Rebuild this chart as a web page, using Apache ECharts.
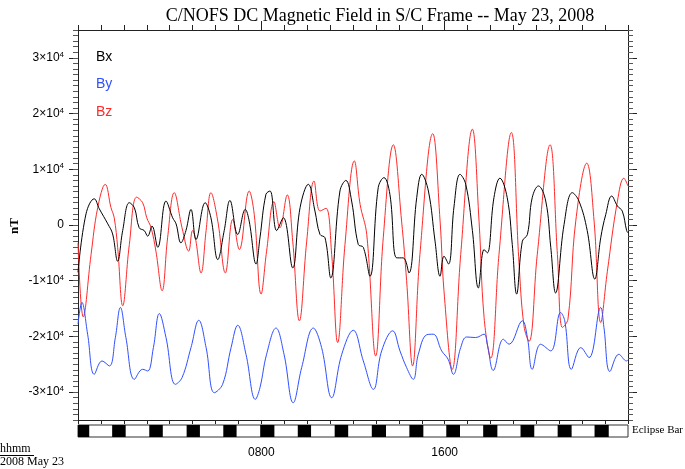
<!DOCTYPE html>
<html>
<head>
<meta charset="utf-8">
<script src="https://cdn.jsdelivr.net/npm/echarts@6/dist/echarts.min.js"></script>
<style>
  html, body { margin: 0; padding: 0; background: #fff; }
  #chart { width: 685px; height: 469px; }
</style>
</head>
<body>
<div id="chart"></div>
<script>
// time in hours (UT) of May 23 2008, field in nT
const bxHours = [0.00, 0.35, 0.71, 0.93, 1.30, 1.51, 1.73, 1.95, 2.24, 2.46, 2.67, 2.89, 3.04, 3.23, 3.48, 3.84, 4.13, 4.28, 4.49, 4.71, 4.93, 5.15, 5.55, 5.80, 6.10, 6.38, 6.63, 6.97, 7.30, 7.47, 7.77, 7.94, 8.20, 8.38, 8.67, 8.96, 9.37, 9.69, 10.05, 10.34, 10.56, 10.78, 11.03, 11.43, 11.69, 11.94, 12.23, 12.45, 12.74, 13.10, 13.35, 13.61, 13.91, 14.19, 14.44, 14.78, 15.00, 15.29, 15.58, 15.80, 15.97, 16.17, 16.41, 16.67, 16.92, 17.21, 17.47, 17.72, 17.86, 18.15, 18.41, 18.73, 18.95, 19.14, 19.39, 19.61, 19.82, 20.09, 20.41, 20.63, 20.84, 21.21, 21.57, 21.86, 22.22, 22.55, 22.81, 23.03, 23.29, 23.54, 23.75, 23.94, 24.00]
const bxValues = [-8500, 2000, 4700, 2900, 200, -1600, -6500, -1000, 4000, 3100, -500, -1000, -2000, -200, -4000, 4300, 1300, 200, -3200, -1000, 2800, -2600, 4000, 1300, -6200, -1000, 4400, -1700, 2800, 700, -7000, -2300, 5500, 6100, -1000, 1300, -7700, 3100, 7300, 2500, -1700, -2300, -9500, 6100, 8000, 4300, -3500, -4000, -9200, 6700, 8500, 5500, -5900, -5900, -8600, 4900, 9100, 6100, -2900, -9200, -5600, -7000, 3400, 9100, 7300, -1000, -11300, -4400, -5000, 4900, 8400, 4900, -3500, -12400, -2900, -1700, 4900, 7000, 4300, -4000, -12200, 100, 5800, 4300, -1000, -9700, -2300, 1900, 5200, 3400, 2500, -1000, -1400]

const byHours = [0.00, 0.17, 0.42, 0.71, 1.05, 1.37, 1.63, 1.85, 2.09, 2.46, 2.82, 3.04, 3.29, 3.55, 3.84, 4.25, 4.54, 4.93, 5.27, 5.59, 5.95, 6.31, 6.68, 6.97, 7.33, 7.74, 7.94, 8.23, 8.64, 8.99, 9.39, 9.76, 10.27, 10.63, 11.07, 11.51, 12.01, 12.45, 12.89, 13.25, 13.73, 14.05, 14.34, 14.63, 14.85, 15.22, 15.50, 15.87, 16.15, 16.38, 16.70, 16.96, 17.35, 17.72, 17.86, 18.12, 18.56, 18.81, 19.39, 19.61, 19.82, 20.19, 20.63, 21.06, 21.24, 21.53, 21.94, 22.30, 22.81, 22.95, 23.21, 23.60, 23.94, 24.00]
const byValues = [-17800, -13900, -19600, -26800, -24400, -25300, -20200, -14800, -20200, -27700, -25900, -26200, -22000, -15900, -20200, -28600, -27400, -22000, -17100, -22000, -30100, -28600, -22000, -18000, -23200, -31300, -29200, -23200, -18500, -23200, -31900, -25600, -18500, -22000, -31000, -23200, -18900, -24400, -29500, -22600, -19000, -22600, -25600, -27700, -23200, -19700, -19600, -22600, -24100, -26800, -22000, -20100, -20200, -19600, -21400, -26100, -20500, -21400, -17200, -20200, -25900, -21400, -22600, -15700, -17200, -25900, -22000, -23800, -14800, -18400, -26300, -23200, -24400, -24200]

const bzHours = [0.00, 0.23, 0.57, 0.86, 1.19, 1.44, 1.58, 1.73, 1.95, 2.24, 2.56, 2.82, 3.00, 3.19, 3.40, 3.67, 3.91, 4.20, 4.54, 4.83, 5.00, 5.12, 5.37, 5.59, 5.80, 6.10, 6.43, 6.75, 7.04, 7.47, 7.69, 7.99, 8.23, 8.55, 8.81, 9.13, 9.37, 9.66, 9.98, 10.30, 10.56, 10.82, 11.07, 11.33, 11.65, 12.06, 12.31, 12.60, 12.99, 13.32, 13.76, 14.12, 14.34, 14.60, 14.92, 15.48, 15.80, 15.97, 16.33, 16.70, 17.21, 17.50, 17.72, 18.01, 18.37, 18.91, 19.24, 19.46, 19.68, 20.04, 20.60, 20.92, 21.14, 21.38, 21.72, 22.20, 22.52, 22.81, 23.10, 23.54, 23.82, 24.00]
const bzValues = [-3200, -16500, -5300, 3100, 7300, 3100, 1300, -4000, -14500, -3500, 5000, 4000, 1300, -500, -4700, -11800, -2300, 5800, -500, -4700, -1000, -2300, -8600, -1000, 5800, 700, -8600, 1000, -4400, 6100, 1900, -12400, -4700, 4200, -500, 5400, -2900, -17200, -2900, 7900, 2500, 3000, -5300, -21100, -3500, 11500, 3700, -1700, -23500, -2300, 14400, 700, -10000, -25300, -5300, 16400, 700, -11800, -25900, -5300, 17200, 700, -16600, -23900, -5300, 16600, -6500, -18100, -20900, -5300, 14400, -5300, -18400, -16900, 700, 11100, 700, -17500, -8300, 4300, 8400, 7000]

// eclipse (dark) intervals along the orbit, hours
const eclipseStart = [0.00, 1.49, 3.11, 4.74, 6.34, 7.95, 9.59, 11.20, 12.82, 14.46, 16.07, 17.68, 19.31, 20.93, 22.54]
const eclipseEnd = [0.49, 2.08, 3.70, 5.32, 6.92, 8.57, 10.17, 11.79, 13.44, 15.07, 16.67, 18.30, 19.91, 21.54, 23.16]

const yMajor = [-30000, -20000, -10000, 0, 10000, 20000, 30000]
const xLabels = [8, 16]

const zip = (xs, ys) => xs.map((x, i) => [x, ys[i]])

const chart = echarts.init(document.getElementById('chart'))

const axisColor = '#222'
const tickLabel = (v) => {
    if (v === 0) return '{a|0}'
    return `{a|${v / 10000}×10}{s|4}`
}

const option = {
    backgroundColor: '#fff',
    animation: false,
    title: {
        text: 'C/NOFS DC Magnetic Field in S/C Frame -- May 23, 2008',
        left: 375,
        top: 2,
        textAlign: 'center',
        textStyle: {
            fontFamily: 'Liberation Serif',
            fontSize: 18,
            fontWeight: 'normal',
            color: '#000'
        }
    },
    grid: [
        { left: 78, right: 57, top: 30, bottom: 49 },
        { left: 78, right: 57, top: 425, height: 12, show: true, borderColor: '#333', borderWidth: 1, backgroundColor: '#fff' }
    ],
    xAxis: [
        {
            gridIndex: 0, type: 'value', position: 'bottom', min: 0, max: 24, interval: 1,
            axisLine: { onZero: false, lineStyle: { color: axisColor } },
            axisTick: { length: 4, lineStyle: { color: axisColor } },
            axisLabel: { show: false },
            splitLine: { show: false }
        },
        {
            gridIndex: 0, type: 'value', position: 'top', min: 0, max: 24, interval: 1,
            axisLine: { onZero: false, lineStyle: { color: axisColor } },
            axisTick: { length: 5, lineStyle: { color: axisColor } },
            axisLabel: { show: false },
            splitLine: { show: false }
        },
        {
            gridIndex: 0, type: 'value', position: 'top', min: 0, max: 24,
            axisLine: { show: false, onZero: false },
            axisTick: { length: 9, customValues: xLabels, lineStyle: { color: axisColor } },
            axisLabel: { show: false },
            splitLine: { show: false }
        },
        {
            gridIndex: 1, type: 'value', position: 'bottom', min: 0, max: 24,
            axisLine: { show: false, onZero: false },
            axisTick: { show: false },
            axisLabel: {
                customValues: xLabels,
                margin: 10,
                fontFamily: 'Liberation Sans',
                fontSize: 12,
                color: '#000',
                formatter: (v) => String(v * 100).padStart(4, '0')
            },
            splitLine: { show: false }
        }
    ],
    yAxis: [
        {
            gridIndex: 0, type: 'value', position: 'left', min: -35000, max: 35000,
            axisLine: { show: true, onZero: false, lineStyle: { color: axisColor } },
            axisTick: { show: true, length: 9, customValues: yMajor, lineStyle: { color: axisColor } },
            axisLabel: {
                customValues: yMajor,
                margin: 14,
                formatter: tickLabel,
                rich: {
                    a: { fontFamily: 'Liberation Sans', fontSize: 12, color: '#000', lineHeight: 14 },
                    s: { fontFamily: 'Liberation Sans', fontSize: 8, color: '#000', verticalAlign: 'top', lineHeight: 10 }
                }
            },
            splitLine: { show: false }
        },
        {
            gridIndex: 0, type: 'value', position: 'left', min: -35000, max: 35000, interval: 1000,
            axisLine: { show: false, onZero: false },
            axisTick: { show: true, length: 5, lineStyle: { color: '#555' } },
            axisLabel: { show: false },
            splitLine: { show: false }
        },
        {
            gridIndex: 0, type: 'value', position: 'right', min: -35000, max: 35000,
            axisLine: { show: true, onZero: false, lineStyle: { color: axisColor } },
            axisTick: { show: true, length: 9, customValues: yMajor, lineStyle: { color: axisColor } },
            axisLabel: { show: false },
            splitLine: { show: false }
        },
        {
            gridIndex: 0, type: 'value', position: 'right', min: -35000, max: 35000, interval: 1000,
            axisLine: { show: false, onZero: false },
            axisTick: { show: true, length: 5, lineStyle: { color: '#555' } },
            axisLabel: { show: false },
            splitLine: { show: false }
        },
        { gridIndex: 1, type: 'value', min: 0, max: 1, show: false }
    ],
    series: [
        {
            name: 'Bz', type: 'line', xAxisIndex: 0, yAxisIndex: 0,
            data: zip(bzHours, bzValues),
            smooth: 0.4, showSymbol: false, symbol: 'none',
            lineStyle: { color: '#ff2a2a', width: 1 }
        },
        {
            name: 'Bx', type: 'line', xAxisIndex: 0, yAxisIndex: 0,
            data: zip(bxHours, bxValues),
            smooth: 0.4, showSymbol: false, symbol: 'none',
            lineStyle: { color: '#000', width: 1 }
        },
        {
            name: 'By', type: 'line', xAxisIndex: 0, yAxisIndex: 0,
            data: zip(byHours, byValues),
            smooth: 0.4, showSymbol: false, symbol: 'none',
            lineStyle: { color: '#3050ff', width: 1 }
        },
        {
            name: 'eclipse', type: 'custom', xAxisIndex: 3, yAxisIndex: 4,
            data: zip(eclipseStart, eclipseEnd),
            encode: { x: [0, 1] },
            renderItem: (params, api) => {
                const p0 = api.coord([api.value(0), 1])
                const p1 = api.coord([api.value(1), 0])
                return {
                    type: 'rect',
                    shape: { x: p0[0], y: p0[1], width: p1[0] - p0[0], height: p1[1] - p0[1] },
                    style: { fill: '#000' }
                }
            }
        }
    ],
    graphic: [
        { type: 'text', left: 96, top: 50, style: { text: 'Bx', fill: '#000', font: '14px "Liberation Sans"' } },
        { type: 'text', left: 96, top: 77, style: { text: 'By', fill: '#3050ff', font: '14px "Liberation Sans"' } },
        { type: 'text', left: 96, top: 105, style: { text: 'Bz', fill: '#ff2a2a', font: '14px "Liberation Sans"' } },
        { type: 'text', left: 8, top: 218, rotation: Math.PI / 2, style: { text: 'nT', fill: '#000', font: 'bold 13px "Liberation Serif"' } },
        { type: 'text', left: 632, top: 425, style: { text: 'Eclipse Bar', fill: '#000', font: '11px "Liberation Serif"' } },
        { type: 'text', left: 0, top: 443, style: { text: 'hhmm', fill: '#000', font: '12px "Liberation Serif"' } },
        { type: 'line', shape: { x1: 0, y1: 455.5, x2: 34, y2: 455.5 }, style: { stroke: '#000', lineWidth: 1 } },
        { type: 'text', left: 0, top: 456, style: { text: '2008 May 23', fill: '#000', font: '12px "Liberation Serif"' } }
    ]
}

chart.setOption(option)
window.addEventListener('resize', () => chart.resize())
</script>
</body>
</html>
